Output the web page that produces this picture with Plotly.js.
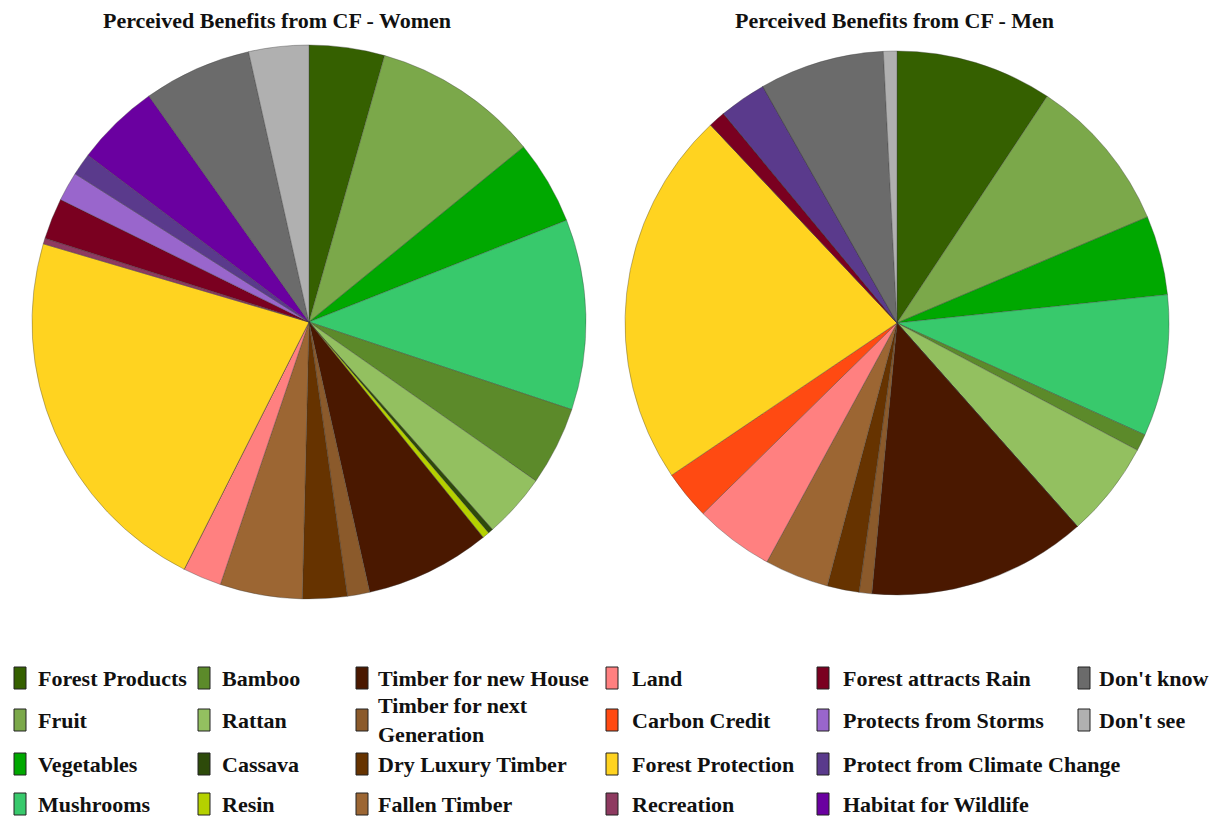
<!DOCTYPE html>
<html><head><meta charset="utf-8">
<script src="https://cdn.plot.ly/plotly-3.0.1.min.js"></script>
<style>html,body{margin:0;padding:0;background:#fff}#chart{width:1213px;height:819px}</style>
</head><body><div id="chart"></div>
<script>
const categories = ["Forest Products","Fruit","Vegetables","Mushrooms","Bamboo","Rattan","Cassava","Resin",
  "Timber for new House","Timber for next Generation","Dry Luxury Timber","Fallen Timber",
  "Land","Carbon Credit","Forest Protection","Recreation",
  "Forest attracts Rain","Protects from Storms","Protect from Climate Change","Habitat for Wildlife",
  "Don't know","Don't see"];
const womenValues = [4.4,9.7,4.9,11.1,4.6,3.75,0.3,0.4,7.3,1.3,2.6,4.8,2.25,0,22.1,0.33,2.4,1.7,1.3,4.9,6.3,3.5];
const menValues   = [9.3,9.3,4.7,8.4,1.0,5.7,0,0,13.0,0.75,1.9,3.8,4.7,2.9,22.4,0,1.0,0,2.8,0,7.4,0.8];
const colors = ["#356000","#7ba84a","#00a800","#38c96c","#5c8a2a","#93c060","#2d4a0a","#b5d100",
  "#4a1800","#8b5a2b","#663300","#9c6633",
  "#ff8080","#ff4a12","#ffd320","#8e3a60",
  "#7a0020","#9966cc","#5a3a8c","#6a00a0",
  "#6b6b6b","#b0b0b0"];
const legendLabels = ["Forest Products","Fruit","Vegetables","Mushrooms","Bamboo","Rattan","Cassava","Resin",
  "Timber for new House","Timber for next<br>Generation","Dry Luxury Timber","Fallen Timber",
  "Land","Carbon Credit","Forest Protection","Recreation",
  "Forest attracts Rain","Protects from Storms","Protect from Climate Change","Habitat for Wildlife",
  "Don't know","Don't see"];
const titles = ["Perceived Benefits from CF - Women","Perceived Benefits from CF - Men"];

const W = 1213, H = 819;
const px = x => x / W, py = y => 1 - y / H;

function pie(values, dom){
  return {type:'pie', labels:categories, values:values, sort:false, direction:'clockwise', rotation:0,
    marker:{colors:colors, line:{color:'rgba(60,60,60,0.6)', width:0.6}},
    textinfo:'none', hoverinfo:'label+percent', showlegend:false,
    domain:{x:[px(dom[0]),px(dom[1])], y:[py(dom[3]),py(dom[2])]}};
}
const data = [pie(womenValues,[32,586,44,600]), pie(menValues,[625,1169,51,595])];

const annotations = [
  {text:'<b>'+titles[0]+'</b>', x:px(277), y:py(20), xref:'paper', yref:'paper', xanchor:'center', yanchor:'middle',
   showarrow:false, font:{family:'Liberation Serif', size:22, color:'#111'}},
  {text:'<b>'+titles[1]+'</b>', x:px(894), y:py(20), xref:'paper', yref:'paper', xanchor:'center', yanchor:'middle',
   showarrow:false, font:{family:'Liberation Serif', size:22, color:'#111'}}
];
const shapes = [];
const colSwatchX = [14,198,356,606,817,1078];
const colTextX = [36,220,376,630,841,1097];
const rowY = [678,720,764,804];
categories.forEach((c,i)=>{
  const col = Math.floor(i/4), row = i%4;
  const y = rowY[row];
  shapes.push({type:'rect', xref:'paper', yref:'paper', x0:px(colSwatchX[col]), x1:px(colSwatchX[col]+12),
    y0:py(y+11), y1:py(y-11), fillcolor:colors[i], line:{color:'#222', width:1}});
  annotations.push({text:'<b>'+legendLabels[i]+'</b>', x:px(colTextX[col]), y:py(y), xref:'paper', yref:'paper',
    xanchor:'left', yanchor:'middle', showarrow:false, align:'left',
    font:{family:'Liberation Serif', size:22, color:'#111'}});
});

Plotly.newPlot('chart', data, {width:W, height:H, margin:{l:0,r:0,t:0,b:0},
  paper_bgcolor:'#fff', annotations:annotations, shapes:shapes}, {displayModeBar:false, staticPlot:true});
</script></body></html>
